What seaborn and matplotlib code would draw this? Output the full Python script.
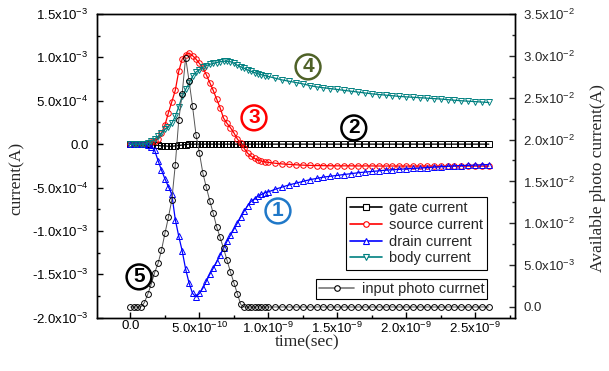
import matplotlib
matplotlib.use("Agg")
import matplotlib.pyplot as plt
import numpy as np
import seaborn as sns
from matplotlib.lines import Line2D
from matplotlib.ticker import FuncFormatter, MultipleLocator

# === Données (temps en ns) ===
TIME_NS = [
    0.000, 0.025, 0.050, 0.075, 0.100, 0.125, 0.150, 0.175, 0.200, 0.225,
    0.250, 0.275, 0.300, 0.325, 0.350, 0.375, 0.400, 0.425, 0.450, 0.475,
    0.500, 0.525, 0.550, 0.575, 0.600, 0.625, 0.650, 0.675, 0.700, 0.725,
    0.750, 0.775, 0.800, 0.825, 0.850, 0.875, 0.900, 0.925, 0.950, 0.975,
    1.000,
    1.05, 1.10, 1.15, 1.20, 1.25, 1.30, 1.35, 1.40, 1.45, 1.50,
    1.55, 1.60, 1.65, 1.70, 1.75, 1.80, 1.85, 1.90, 1.95, 2.00,
    2.05, 2.10, 2.15, 2.20, 2.25, 2.30, 2.35, 2.40, 2.45, 2.50,
    2.55, 2.60,
]

# courants en unités de 1e-4 A (axe gauche)
GATE = [
    0, 0, 0, 0, 0, 0, -0.05, -0.10, -0.15, -0.20,
    -0.20, -0.25, -0.25, -0.20, -0.15, -0.10, -0.05, 0, 0, 0,
    0, 0, 0, 0, 0, 0, 0, 0, 0, 0,
    0, 0, 0, 0, 0, 0, 0, 0, 0, 0,
    0,
    0, 0, 0, 0, 0, 0, 0, 0, 0, 0,
    0, 0, 0, 0, 0, 0, 0, 0, 0, 0,
    0, 0, 0, 0, 0, 0, 0, 0, 0, 0,
    0, 0,
]
SOURCE = [
    0, 0, 0, 0, 0.02, 0.08, 0.20, 0.40, 0.65, 1.3,
    2.2, 3.6, 4.9, 6.2, 8.4, 9.8, 10.3, 10.5, 10.2, 9.8,
    9.3, 8.8, 8.0, 7.1, 6.2, 5.2, 4.2, 3.0, 2.4, 1.9,
    1.3, 0.6, 0.1, -0.5, -1.05, -1.4, -1.65, -1.85, -1.95, -2.05,
    -2.1,
    -2.20, -2.28, -2.33, -2.38, -2.42, -2.45, -2.47, -2.48, -2.49, -2.50,
    -2.50, -2.50, -2.51, -2.51, -2.51, -2.52, -2.52, -2.52, -2.52, -2.52,
    -2.52, -2.52, -2.52, -2.53, -2.53, -2.53, -2.53, -2.53, -2.53, -2.53,
    -2.53, -2.53,
]
DRAIN = [
    0, 0, 0, 0, 0, -0.1, -0.3, -0.7, -1.9, -3.0,
    -4.0, -4.9, -5.8, -8.7, -10.6, -12.3, -14.4, -16.0, -17.2, -17.6,
    -17.2, -16.6, -15.8, -15.0, -14.3, -13.6, -12.8, -12.0, -11.2, -10.5,
    -9.8, -9.1, -8.4, -7.7, -7.1, -6.6, -6.3, -6.0, -5.8, -5.6,
    -5.5,
    -5.2, -4.95, -4.7, -4.5, -4.3, -4.1, -3.95, -3.8, -3.7, -3.6,
    -3.5, -3.4, -3.3, -3.22, -3.15, -3.08, -3.0, -2.95, -2.9, -2.85,
    -2.8, -2.75, -2.7, -2.65, -2.6, -2.55, -2.5, -2.47, -2.44, -2.41,
    -2.38, -2.35,
]
BODY = [
    0, 0, 0, 0, 0, 0.15, 0.35, 0.6, 0.9, 1.3,
    1.7, 2.0, 2.4, 3.2, 4.3, 5.5, 6.3, 7.0, 7.8, 8.3,
    8.6, 8.85, 9.05, 9.2, 9.3, 9.4, 9.5, 9.55, 9.55, 9.5,
    9.35, 9.1, 8.9, 8.75, 8.55, 8.4, 8.25, 8.1, 8.0, 7.9,
    7.8,
    7.6, 7.4, 7.25, 7.1, 6.95, 6.75, 6.6, 6.5, 6.4, 6.3,
    6.2, 6.1, 6.0, 5.9, 5.8, 5.72, 5.65, 5.58, 5.5, 5.45,
    5.4, 5.35, 5.3, 5.25, 5.2, 5.13, 5.06, 5.0, 4.95, 4.9,
    4.85, 4.8,
]
# courant photo en unités de 1e-2 A (axe droit)
PHOTO = [
    0, 0, 0, 0, 0.05, 0.15, 0.27, 0.41, 0.52, 0.68,
    0.88, 1.07, 1.28, 1.70, 2.23, 2.55, 2.98, 2.70, 2.40, 2.06,
    1.84, 1.60, 1.43, 1.27, 1.12, 0.96, 0.83, 0.70, 0.56, 0.42,
    0.29, 0.16, 0.03, 0, 0, 0, 0, 0, 0, 0,
    0,
    0, 0, 0, 0, 0, 0, 0, 0, 0, 0,
    0, 0, 0, 0, 0, 0, 0, 0, 0, 0,
    0, 0, 0, 0, 0, 0, 0, 0, 0, 0,
    0, 0,
]

LEFT_LABELS = ["gate current", "source current", "drain current", "body current"]
PHOTO_LABEL = "input photo currnet"

# === Couleurs ===
C_GATE = "#000000"
C_SOURCE = "#ff0000"
C_DRAIN = "#0000ff"
C_BODY = "#008080"
C_PHOTO_LINE = "#555555"

sns.set_style("ticks")
plt.rcParams["font.family"] = ["Liberation Sans", "DejaVu Sans"]
plt.rcParams["mathtext.default"] = "regular"

t = np.array(TIME_NS) * 1e-9


def sci_label(v, pos):
    if abs(v) < 1e-15:
        return "0.0"
    e = int(np.floor(np.log10(abs(v)) + 1e-9))
    return f"{v / 10**e:.1f}x10$^{{{e}}}$"


fig = plt.figure(figsize=(6.09, 3.71), dpi=100)
ax = fig.add_axes([0.1588, 0.1437, 0.687, 0.8186])
ax2 = ax.twinx()

series = [
    (GATE, C_GATE, "s"),
    (SOURCE, C_SOURCE, "o"),
    (DRAIN, C_DRAIN, "^"),
    (BODY, C_BODY, "v"),
]
handles = []
for vals, col, mk in series:
    sns.lineplot(
        x=t, y=np.array(vals) * 1e-4, ax=ax, color=col, linewidth=0.9,
        marker=mk, markersize=4, markerfacecolor="none",
        markeredgecolor=col, markeredgewidth=0.7, legend=False,
    )
    handles.append(Line2D([], [], color=col, lw=1.2, marker=mk, markersize=4,
                          markerfacecolor="white", markeredgecolor=col,
                          markeredgewidth=0.8))

sns.lineplot(
    x=t, y=np.array(PHOTO) * 1e-2, ax=ax2, color=C_PHOTO_LINE, linewidth=0.7,
    marker="o", markersize=4.2, markerfacecolor="none",
    markeredgecolor="black", markeredgewidth=0.7, legend=False,
)
h_photo = Line2D([], [], color="#777777", lw=1.2, marker="o", markersize=4,
                 markerfacecolor="white", markeredgecolor="black",
                 markeredgewidth=0.8)

# ---------- Axes ----------
ax.set_xlim(-0.245e-9, 2.79e-9)
ax.set_ylim(-2.0e-3, 1.5e-3)
ax2.set_ylim(-0.00128, 0.035)
ax.xaxis.set_major_locator(MultipleLocator(5e-10))
ax.xaxis.set_minor_locator(MultipleLocator(2.5e-10))
ax.yaxis.set_major_locator(MultipleLocator(5e-4))
ax.yaxis.set_minor_locator(MultipleLocator(2.5e-4))
ax2.yaxis.set_major_locator(MultipleLocator(5e-3))
ax2.yaxis.set_minor_locator(MultipleLocator(2.5e-3))
for a in (ax, ax2):
    a.xaxis.set_major_formatter(FuncFormatter(sci_label))
    a.yaxis.set_major_formatter(FuncFormatter(sci_label))
    a.set_xlabel("")
    a.set_ylabel("")
    for sp in a.spines.values():
        sp.set_linewidth(1.0)
        sp.set_color("black")

ax.tick_params(axis="both", which="both", direction="in", labelsize=9.5,
               top=False, right=False, width=1.0, colors="black")
ax.tick_params(which="major", length=4)
ax.tick_params(which="minor", length=2.5)
ax.tick_params(axis="y", pad=6)
ax.tick_params(axis="x", pad=2)
ax2.tick_params(axis="y", which="both", direction="in", labelsize=9.5,
                left=False, right=True, width=1.0, pad=6)
ax2.tick_params(which="major", length=4)
ax2.tick_params(which="minor", length=2.5)

serif = ["Liberation Serif", "DejaVu Serif"]
fig.text(17 / 609, 1 - 178 / 371, "current(A)", rotation=90, ha="center",
         va="center", fontsize=12.5, family=serif)
fig.text(598 / 609, 1 - 178 / 371, "Available photo current(A)", rotation=90,
         ha="center", va="center", fontsize=12.5, family=serif)
fig.text(307 / 609, 1 - 342 / 371, "time(sec)", ha="center", va="center",
         fontsize=12.5, family=serif)

# ---------- Légendes ----------
leg1 = ax2.legend(handles, LEFT_LABELS, loc="upper right",
                  bbox_to_anchor=(0.933, 0.397), borderaxespad=0,
                  fontsize=10.5, frameon=True, fancybox=False, framealpha=1,
                  edgecolor="black", handlelength=2.2, labelspacing=0.18,
                  borderpad=0.3, handletextpad=0.45)
leg1.get_frame().set_linewidth(0.8)
ax2.add_artist(leg1)
leg2 = ax2.legend([h_photo], [PHOTO_LABEL], loc="upper right",
                  bbox_to_anchor=(0.933, 0.127), borderaxespad=0,
                  fontsize=10.5, frameon=True, fancybox=False, framealpha=1,
                  edgecolor="black", handlelength=2.4, borderpad=0.2,
                  handletextpad=0.5)
leg2.get_frame().set_linewidth(0.8)

# ---------- Numéros entourés ----------
marks = [
    ("1", 1.07e-9, -7.7e-4, "#1f78c8"),
    ("2", 1.62e-9, 1.87e-4, "#000000"),
    ("3", 0.896e-9, 3.03e-4, "#ff0000"),
    ("4", 1.288e-9, 8.9e-4, "#4f6228"),
    ("5", 0.062e-9, -15.3e-4, "#000000"),
]
for txt, x, y, col in marks:
    ax2.text(x, y, txt, transform=ax.transData, color=col, fontsize=15,
             fontweight="bold", ha="center", va="center", zorder=10,
             bbox=dict(boxstyle="circle,pad=0.14", fc="white", ec=col, lw=1.8))

fig.savefig("out.png", dpi=100)
